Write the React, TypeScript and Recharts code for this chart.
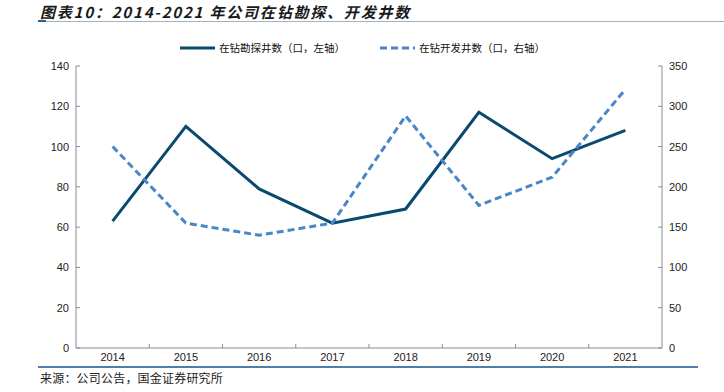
import { LineChart, Line, XAxis, YAxis } from 'recharts';

const years = ['2014', '2015', '2016', '2017', '2018', '2019', '2020', '2021'];
const exploreWells = [63, 110, 79, 62, 69, 117, 94, 108];
const devWells = [250, 155, 140, 155, 288, 177, 212, 321];
const leftTicks = [0, 20, 40, 60, 80, 100, 120, 140];
const rightTicks = [0, 50, 100, 150, 200, 250, 300, 350];

const data = years.map((y, i) => ({ year: y, explore: exploreWells[i], dev: devWells[i] }));

const W = 724;
const H = 392;
const PLOT_LEFT = 76;
const PLOT_RIGHT = 662;
const PLOT_TOP = 66;
const PLOT_BOTTOM = 348;
const X_AXIS_H = 30;
const TICK_GAP = 7;
const TICK_LEN = 4;
const AXIS_COLOR = '#8c8c8c';
const NAVY = '#0b4a6f';
const LIGHT = '#4a86c6';
const tickFont = '"Liberation Sans", Arial, sans-serif';
const cjk = '"Noto Sans CJK SC", "Noto Sans", sans-serif';

const LeftTick = (props: any) => {
  const { x, y, payload } = props;
  return (
    <g>
      <line x1={x + TICK_GAP} x2={x + TICK_GAP + TICK_LEN} y1={y} y2={y} stroke={AXIS_COLOR} />
      <text x={x} y={y} textAnchor="end" dominantBaseline="central" fontSize={11} fill="#222" fontFamily={tickFont}>
        {payload.value}
      </text>
    </g>
  );
};

const RightTick = (props: any) => {
  const { x, y, payload } = props;
  return (
    <g>
      <line x1={x - TICK_GAP - TICK_LEN} x2={x - TICK_GAP} y1={y} y2={y} stroke={AXIS_COLOR} />
      <text x={x} y={y} textAnchor="start" dominantBaseline="central" fontSize={11} fill="#222" fontFamily={tickFont}>
        {payload.value}
      </text>
    </g>
  );
};

const BottomTick = (props: any) => {
  const { x, y, payload, index } = props;
  const half = (PLOT_RIGHT - PLOT_LEFT) / years.length / 2;
  return (
    <g>
      {index > 0 && (
        <line x1={x - half} x2={x - half} y1={PLOT_BOTTOM - TICK_LEN} y2={PLOT_BOTTOM} stroke={AXIS_COLOR} />
      )}
      <text x={x} y={y} textAnchor="middle" dy="0.71em" fontSize={11} fill="#222" fontFamily={tickFont}>
        {payload.value}
      </text>
    </g>
  );
};

function LegendItem({ dashed, label }: { dashed?: boolean; label: string }) {
  return (
    <div style={{ display: 'flex', alignItems: 'center' }}>
      <svg width={36} height={6} style={{ marginRight: 3 }}>
        <line
          x1={0}
          x2={35}
          y1={3}
          y2={3}
          stroke={dashed ? LIGHT : NAVY}
          strokeWidth={3}
          strokeDasharray={dashed ? '7 4' : undefined}
        />
      </svg>
      <span style={{ fontSize: 10.5, color: '#111', fontFamily: cjk }}>{label}</span>
    </div>
  );
}

export default function App() {
  return (
    <div style={{ position: 'absolute', left: 0, top: 0, width: W, height: H, background: '#fff', overflow: 'hidden' }}>
      <div
        style={{
          position: 'absolute',
          left: 40,
          top: 1,
          fontSize: 15,
          fontWeight: 700,
          fontStyle: 'italic',
          letterSpacing: 1.8,
          color: '#1a1a1a',
          fontFamily: cjk,
          whiteSpace: 'nowrap',
        }}
      >
        图表10：2014-2021 年公司在钻勘探、开发井数
      </div>
      <div style={{ position: 'absolute', left: 38, top: 21, width: W - 38, height: 1, background: '#9fb3c6' }} />
      <div style={{ position: 'absolute', left: 38, top: 20, width: 8, height: 2, background: '#2f5f8a' }} />

      <div style={{ position: 'absolute', left: 180, top: 40, display: 'flex' }}>
        <LegendItem label="在钻勘探井数（口，左轴）" />
      </div>
      <div style={{ position: 'absolute', left: 380, top: 40, display: 'flex' }}>
        <LegendItem dashed label="在钻开发井数（口，右轴）" />
      </div>

      <div style={{ position: 'absolute', left: 0, top: 0 }}>
        <LineChart
          width={W}
          height={H}
          data={data}
          margin={{ top: PLOT_TOP, right: 0, left: 0, bottom: H - PLOT_BOTTOM - X_AXIS_H }}
        >
          <XAxis
            dataKey="year"
            scale="band"
            height={X_AXIS_H}
            stroke={AXIS_COLOR}
            tickLine={false}
            tickSize={0}
            tickMargin={5}
            tick={<BottomTick />}
            interval={0}
          />
          <YAxis
            yAxisId="left"
            orientation="left"
            width={PLOT_LEFT}
            domain={[0, 140]}
            ticks={leftTicks}
            stroke={AXIS_COLOR}
            tickLine={false}
            tickSize={0}
            tickMargin={TICK_GAP}
            tick={<LeftTick />}
            interval={0}
          />
          <YAxis
            yAxisId="right"
            orientation="right"
            width={W - PLOT_RIGHT}
            domain={[0, 350]}
            ticks={rightTicks}
            stroke={AXIS_COLOR}
            tickLine={false}
            tickSize={0}
            tickMargin={TICK_GAP}
            tick={<RightTick />}
            interval={0}
          />
          <Line
            yAxisId="left"
            dataKey="explore"
            stroke={NAVY}
            strokeWidth={3}
            dot={false}
            type="linear"
            isAnimationActive={false}
          />
          <Line
            yAxisId="right"
            dataKey="dev"
            stroke={LIGHT}
            strokeWidth={3}
            strokeDasharray="7 4"
            dot={false}
            type="linear"
            isAnimationActive={false}
          />
        </LineChart>
      </div>

      <div style={{ position: 'absolute', left: 38, top: 366, width: 660, height: 2, background: '#4f7ea8' }} />
      <div
        style={{
          position: 'absolute',
          left: 40,
          top: 369,
          fontSize: 12,
          color: '#222',
          fontFamily: cjk,
          letterSpacing: 0.2,
          whiteSpace: 'nowrap',
        }}
      >
        来源：公司公告，国金证券研究所
      </div>
    </div>
  );
}
